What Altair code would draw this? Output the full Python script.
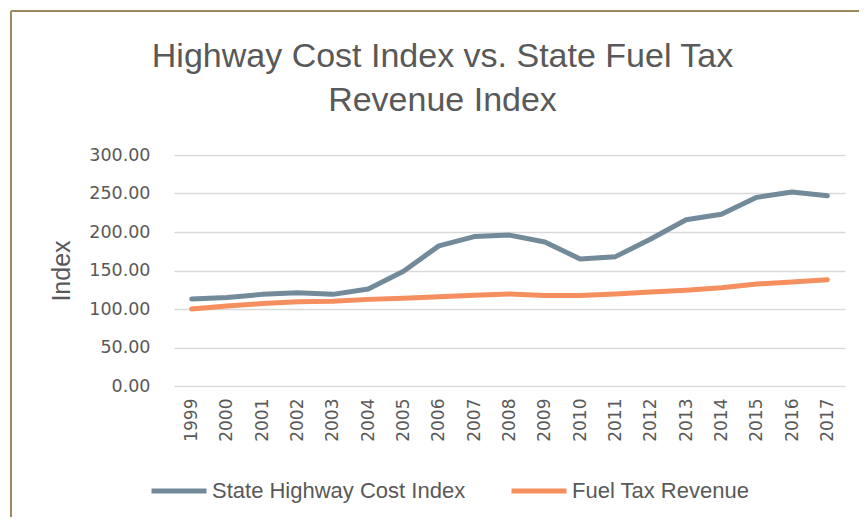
import altair as alt
import pandas as pd

years = [str(y) for y in range(1999, 2018)]
cost_index = [113, 115, 119, 121, 119, 126, 149, 182, 194, 196, 187, 165, 168, 191, 216, 223, 245, 252, 247]
fuel_revenue = [100, 104, 107, 109.5, 110, 112.5, 114, 116, 118, 119.5, 117.5, 117.5, 119.5, 122, 124.5, 127.5, 132.5, 135, 138]
series_names = ["State Highway Cost Index", "Fuel Tax Revenue"]
series_colors = ["#738A9B", "#F58F5F"]
y_ticks = [0, 50, 100, 150, 200, 250, 300]

rows = []
for name, vals in zip(series_names, [cost_index, fuel_revenue]):
    for yr, v in zip(years, vals):
        rows.append({"year": yr, "value": v, "series": name})
df = pd.DataFrame(rows)

TEXT = "#595959"
NARROW = "Liberation Sans Narrow, Liberation Sans, sans-serif"
NUM = "DejaVu Sans, sans-serif"

lines = alt.Chart(df).mark_line(strokeWidth=5, strokeCap="round", strokeJoin="round").encode(
    x=alt.X("year:O", sort=years, title=None,
            axis=alt.Axis(labelAngle=-90, labelPadding=12, ticks=False, domain=False,
                          labelFont=NUM, labelFontSize=17, labelColor=TEXT)),
    y=alt.Y("value:Q", scale=alt.Scale(domain=[0, 300], nice=False), title="Index",
            axis=alt.Axis(values=y_ticks, format=".2f", labelPadding=24, ticks=False, domain=False,
                          labelFont=NUM, labelFontSize=17.5, labelColor=TEXT,
                          gridColor="#D9D9D9", gridWidth=1.5,
                          titleFont=NARROW, titleFontSize=25, titleFontWeight="normal",
                          titleColor=TEXT, titlePadding=14)),
    color=alt.Color("series:N", scale=alt.Scale(domain=series_names, range=series_colors),
                    sort=series_names,
                    legend=alt.Legend(title=None, orient="none", legendX=-25, legendY=306,
                                      direction="horizontal", symbolType="stroke",
                                      symbolSize=3025, symbolStrokeWidth=5, labelOffset=3,
                                      columnPadding=35, labelFont=NARROW, labelFontSize=22,
                                      labelColor=TEXT, labelLimit=400)),
)

frame_df = pd.DataFrame({"k": [0]})
frame_color = "#9E8A60"
top_border = alt.Chart(frame_df).mark_rule(color=frame_color, strokeWidth=2).encode(
    x=alt.value(-163), x2=alt.value(700), y=alt.value(-144))
left_border = alt.Chart(frame_df).mark_rule(color=frame_color, strokeWidth=2).encode(
    x=alt.value(-163), y=alt.value(-144), y2=alt.value(400))

chart = alt.layer(top_border, left_border, lines).properties(
    width=671, height=231,
    title=alt.TitleParams(text=["Highway Cost Index vs. State Fuel Tax", "Revenue Index"],
                          font=NARROW, fontSize=34, fontWeight="normal", color=TEXT,
                          anchor="middle", dx=-67, offset=-108, lineHeight=44),
    autosize=alt.AutoSizeParams(type="none"),
    padding={"left": 166, "top": 147, "right": 14, "bottom": 131},
).configure_view(stroke=None)

chart.save("out.html", embed_options={"renderer": "svg", "actions": False})
